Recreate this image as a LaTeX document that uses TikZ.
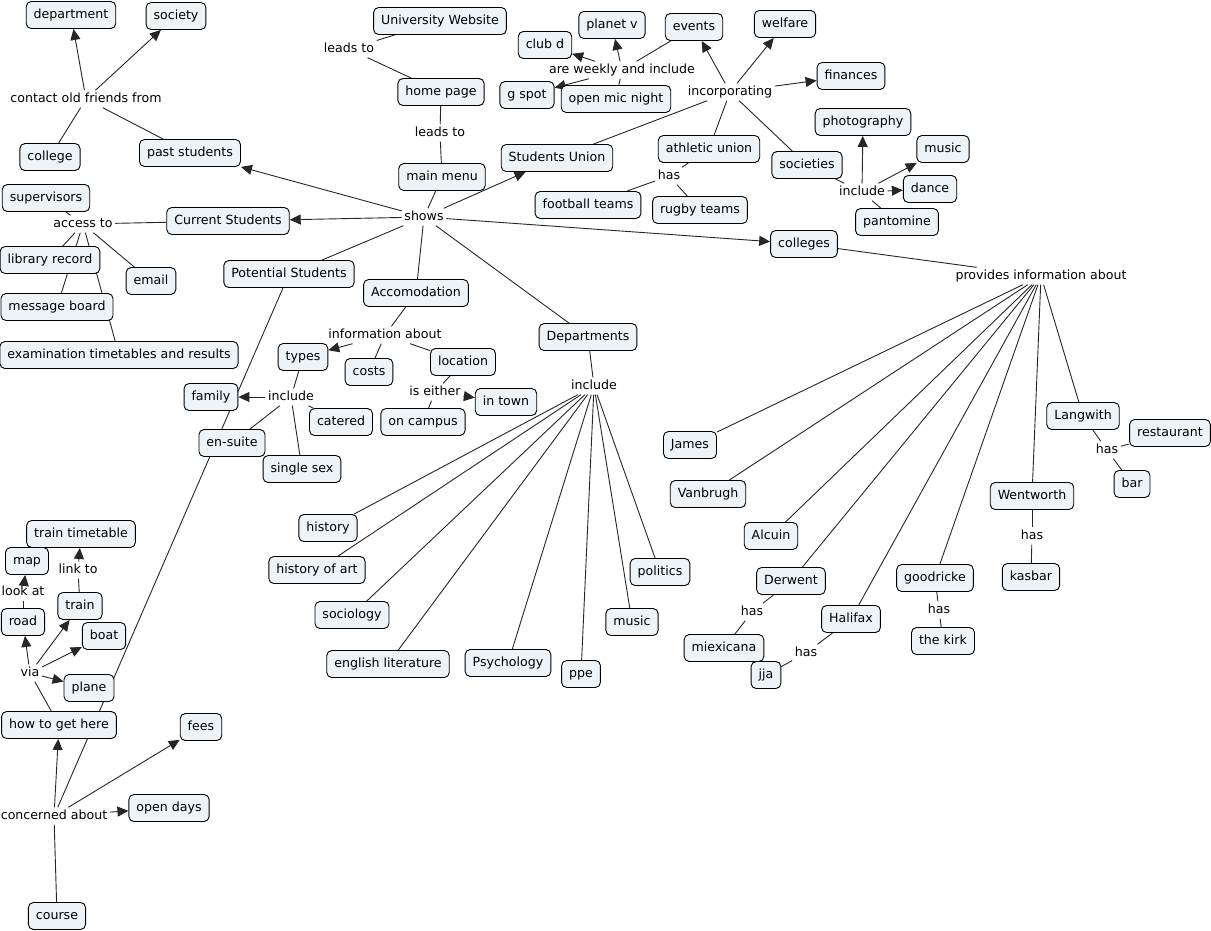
\documentclass[tikz,border=0pt]{standalone}
\usepackage{fontspec}
\setmainfont{DejaVu Sans}
\usetikzlibrary{arrows.meta}
\definecolor{cfill}{RGB}{237,243,246}
\pgfdeclarelayer{bg}
\pgfsetlayers{bg,main}
\begin{document}
\begin{tikzpicture}[x=1pt,y=-1pt,
  cn/.style={draw=black, fill=cfill, rounded corners=5pt, inner xsep=7.5pt, inner ysep=0pt,
    text height=9.5pt, text depth=2.5pt, minimum height=27pt, line width=0.9pt,
    font=\fontsize{12.6}{14}\selectfont},
  lk/.style={inner sep=2.5pt, text height=9.5pt, text depth=2.5pt, font=\fontsize{12.6}{14}\selectfont},
  ln/.style={draw=black!85, line width=0.9pt},
  ar/.style={ln, -{Triangle[length=11pt,width=10pt]}}]
\useasboundingbox (0,0) rectangle (1211,930);
% top left
\node[cn] (dep) at (71,15) {department};
\node[cn] (soc) at (176,16) {society};
\node[lk] (cof) at (86,99) {contact old friends from};
\node[cn] (col) at (50,157) {college};
\node[cn] (past) at (190,153) {past students};
\node[cn] (sup) at (46,198) {supervisors};
\node[lk] (acc) at (83,224) {access to};
\node[cn] (cur) at (228,221) {Current Students};
\node[cn] (lib) at (50,260) {library record};
\node[cn] (email) at (151,281) {email};
\node[cn] (msg) at (57,307) {message board};
\node[cn] (exam) at (119,355) {examination timetables and results};
\node[cn] (pot) at (289,274) {Potential Students};
% top centre
\node[cn] (uw) at (440,21) {University Website};
\node[lk] (lt1) at (349,49) {leads to};
\node[cn] (hp) at (441,92) {home page};
\node[lk] (lt2) at (440,133) {leads to};
\node[cn] (mm) at (442,177) {main menu};
\node[lk] (shows) at (424,217) {shows};
\node[cn] (su) at (557,158) {Students Union};
\node[cn] (clubd) at (545,45) {club d};
\node[cn] (planet) at (612,25) {planet v};
\node[cn] (events) at (694,27) {events};
\node[lk] (awi) at (622,70) {are weekly and include};
\node[cn] (gspot) at (527,95) {g spot};
\node[cn] (omn) at (616,99) {open mic night};
\node[cn] (welf) at (785,24) {welfare};
\node[lk] (inc) at (730,92) {incorporating};
\node[cn] (fin) at (851,76) {finances};
\node[cn] (photo) at (863,122) {photography};
\node[cn] (music1) at (943,149) {music};
\node[cn] (au) at (709,149) {athletic union};
\node[lk] (has1) at (669,176) {has};
\node[cn] (foot) at (588,205) {football teams};
\node[cn] (rugby) at (700,210) {rugby teams};
\node[cn] (socs) at (807,165) {societies};
\node[lk] (incl1) at (862,192) {include};
\node[cn] (dance) at (930,189) {dance};
\node[cn] (panto) at (897,222) {pantomine};
% colleges
\node[cn] (colls) at (804,244) {colleges};
\node[lk] (pia) at (1041,276) {provides information about};
\node[cn] (lang) at (1083,416) {Langwith};
\node[cn] (rest) at (1170,433) {restaurant};
\node[lk] (has2) at (1107,450) {has};
\node[cn] (bar) at (1132,484) {bar};
\node[cn] (james) at (690,445) {James};
\node[cn] (van) at (708,494) {Vanbrugh};
\node[cn] (alc) at (771,536) {Alcuin};
\node[cn] (der) at (791,581) {Derwent};
\node[lk] (has3) at (752,612) {has};
\node[cn] (miex) at (724,648) {miexicana};
\node[cn] (jja) at (766,675) {jja};
\node[lk] (has4) at (806,653) {has};
\node[cn] (hal) at (851,619) {Halifax};
\node[cn] (good) at (935,578) {goodricke};
\node[lk] (has5) at (939,610) {has};
\node[cn] (kirk) at (943,641) {the kirk};
\node[cn] (went) at (1032,496) {Wentworth};
\node[lk] (has6) at (1032,536) {has};
\node[cn] (kas) at (1031,577) {kasbar};
% accommodation
\node[cn] (accom) at (416,293) {Accomodation};
\node[lk] (ia) at (385,335) {information about};
\node[cn] (types) at (303,357) {types};
\node[cn] (costs) at (369,372) {costs};
\node[cn] (loc) at (463,362) {location};
\node[lk] (ie) at (435,392) {is either};
\node[cn] (oncamp) at (423,422) {on campus};
\node[cn] (intown) at (506,402) {in town};
\node[cn] (fam) at (211,397) {family};
\node[lk] (inc2) at (291,397) {include};
\node[cn] (cat) at (341,422) {catered};
\node[cn] (ens) at (232,443) {en-suite};
\node[cn] (single) at (302,469) {single sex};
% departments
\node[cn] (depts) at (588,337) {Departments};
\node[lk] (inc3) at (594,386) {include};
\node[cn] (hist) at (328,528) {history};
\node[cn] (hoa) at (317,570) {history of art};
\node[cn] (socio) at (352,615) {sociology};
\node[cn] (eng) at (388,664) {english literature};
\node[cn] (psy) at (508,663) {Psychology};
\node[cn] (ppe) at (581,674) {ppe};
\node[cn] (music2) at (632,622) {music};
\node[cn] (pol) at (660,572) {politics};
% bottom left
\node[cn] (tt) at (81,534) {train timetable};
\node[cn] (map) at (27,561) {map};
\node[lk] (linkto) at (78,570) {link to};
\node[lk] (lookat) at (23,592) {look at};
\node[cn] (train) at (80,606) {train};
\node[cn] (road) at (23,622) {road};
\node[cn] (boat) at (104,636) {boat};
\node[lk] (via) at (30,673) {via};
\node[cn] (plane) at (89,688) {plane};
\node[cn] (howto) at (59,725) {how to get here};
\node[cn] (fees) at (201,727) {fees};
\node[lk] (conc) at (54,816) {concerned about};
\node[cn] (open) at (169,808) {open days};
\node[cn] (course) at (57,916) {course};

\begin{pgfonlayer}{bg}
\draw[ln] (uw) -- (lt1); \draw[ln] (lt1) -- (hp);
\draw[ln] (hp) -- (lt2); \draw[ln] (lt2) -- (mm);
\draw[ln] (mm) -- (shows);
\draw[ar] (shows) -- (past);
\draw[ar] (shows) -- (cur);
\draw[ar] (shows) -- (su);
\draw[ar] (shows) -- (colls);
\draw[ln] (shows) -- (pot);
\draw[ln] (shows) -- (accom);
\draw[ln] (shows) -- (depts);
% current students
\draw[ln] (cur) -- (acc);
\foreach \t in {sup,lib,msg,exam,email} \draw[ln] (acc) -- (\t);
% past students
\draw[ln] (past) -- (cof);
\draw[ar] (cof) -- (dep);
\draw[ar] (cof) -- (soc);
\draw[ln] (cof) -- (col);
% students union
\draw[ln] (su) -- (inc);
\draw[ar] (inc) -- (events);
\draw[ar] (inc) -- (welf);
\draw[ar] (inc) -- (fin);
\draw[ln] (inc) -- (au);
\draw[ln] (inc) -- (socs);
\draw[ln] (events) -- (awi);
\draw[ar] (awi) -- (clubd);
\draw[ar] (awi) -- (planet);
\draw[ar] (awi) -- (gspot);
\draw[ln] (omn) -- (awi);
\draw[ln] (au) -- (has1);
\draw[ln] (has1) -- (foot);
\draw[ln] (has1) -- (rugby);
\draw[ln] (socs) -- (incl1);
\draw[ar] (incl1) -- (photo);
\draw[ar] (incl1) -- (music1);
\draw[ar] (incl1) -- (dance);
\draw[ln] (panto) -- (incl1);
% colleges
\draw[ln] (colls) -- (pia);
\foreach \t in {james,van,alc,der,hal,good,went,lang} \draw[ln] (pia) -- (\t);
\draw[ln] (lang) -- (has2); \draw[ln] (has2) -- (rest); \draw[ln] (has2) -- (bar);
\draw[ln] (der) -- (has3); \draw[ln] (has3) -- (miex);
\draw[ln] (hal) -- (has4); \draw[ln] (has4) -- (jja);
\draw[ln] (good) -- (has5); \draw[ln] (has5) -- (kirk);
\draw[ln] (went) -- (has6); \draw[ln] (has6) -- (kas);
% accommodation
\draw[ln] (accom) -- (ia);
\draw[ar] (ia) -- (types);
\draw[ln] (ia) -- (costs);
\draw[ln] (ia) -- (loc);
\draw[ln] (loc) -- (ie);
\draw[ar] (ie) -- (intown);
\draw[ln] (ie) -- (oncamp);
\draw[ln] (types) -- (inc2);
\draw[ar] (inc2) -- (fam);
\draw[ln] (inc2) -- (cat);
\draw[ln] (inc2) -- (ens);
\draw[ln] (inc2) -- (single);
% departments
\draw[ln] (depts) -- (inc3);
\foreach \t in {hist,hoa,socio,eng,psy,ppe,music2,pol} \draw[ln] (inc3) -- (\t);
% potential students
\draw[ln] (pot) -- (conc);
\draw[ar] (conc) -- (howto);
\draw[ar] (conc) -- (fees);
\draw[ar] (conc) -- (open);
\draw[ln] (course) -- (conc);
\draw[ln] (howto) -- (via);
\draw[ar] (via) -- (road);
\draw[ar] (via) -- (train);
\draw[ar] (via) -- (boat);
\draw[ar] (via) -- (plane);
\draw[ln] (road) -- (lookat);
\draw[ar] (lookat) -- (map);
\draw[ln] (train) -- (linkto);
\draw[ar] (linkto) -- (tt);
\end{pgfonlayer}
\end{tikzpicture}
\end{document}
